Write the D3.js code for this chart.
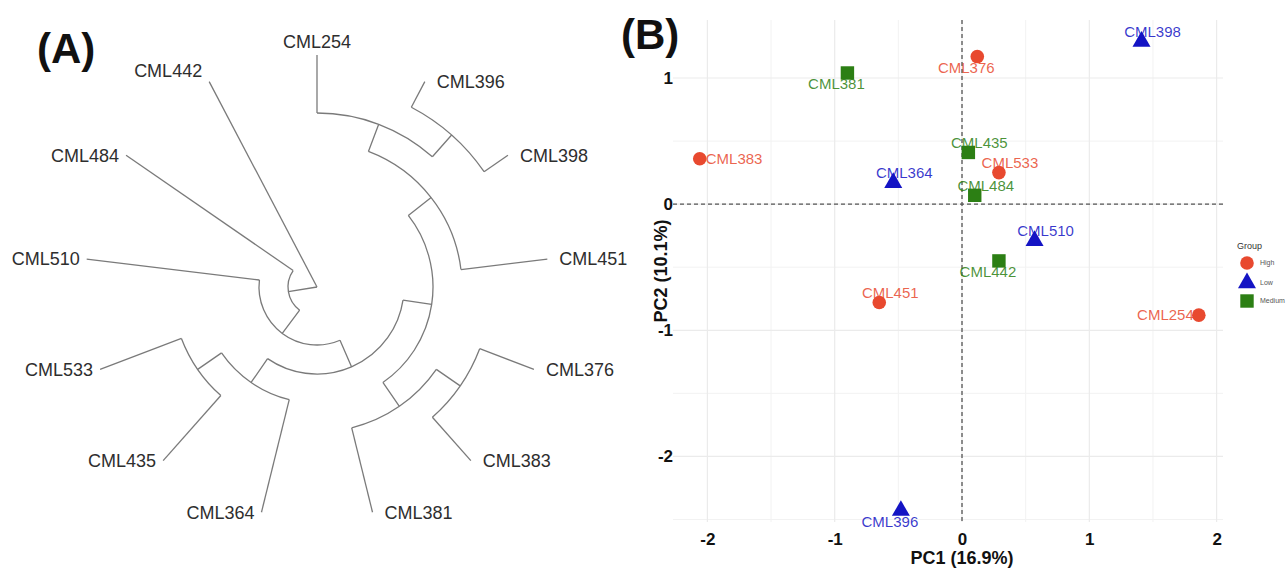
<!DOCTYPE html>
<html>
<head>
<meta charset="utf-8">
<script src="https://cdn.jsdelivr.net/npm/d3@7"></script>
<style>
  body { margin: 0; background: #fff; }
  svg { display: block; font-family: "Liberation Sans", Arial, sans-serif; }
</style>
</head>
<body>
<svg id="chart" width="1287" height="569"></svg>
<script>
// (A) dendrogram, as id / parent lists (children kept in leaf order)
const treeIds = ['root', 'n1', 'n2', 'n3', 'n4', 'n5', 'n6', 'CML254', 'n7', 'CML396', 'CML398', 'CML451',
  'n8', 'n9', 'CML376', 'CML383', 'CML381', 'n10', 'CML364', 'n11', 'CML435', 'CML533', 'CML510', 'CML484', 'CML442']
const treeParents = ['', 'root', 'n1', 'n2', 'n3', 'n4', 'n5', 'n6', 'n6', 'n7', 'n7', 'n5',
  'n4', 'n8', 'n9', 'n9', 'n8', 'n3', 'n10', 'n10', 'n11', 'n11', 'n2', 'n1', 'root']

// (B) PCA scores
const pcaNames = ['CML398', 'CML376', 'CML381', 'CML383', 'CML364', 'CML435', 'CML533', 'CML484', 'CML510', 'CML442', 'CML451', 'CML254', 'CML396']
const pc1 = [1.41, 0.12, -0.90, -2.06, -0.54, 0.05, 0.29, 0.10, 0.57, 0.29, -0.65, 1.86, -0.48]
const pc2 = [1.29, 1.17, 1.04, 0.36, 0.17, 0.41, 0.25, 0.07, -0.29, -0.45, -0.78, -0.88, -2.43]
const pcaGroups = ['Low', 'High', 'Medium', 'High', 'Low', 'Medium', 'High', 'Medium', 'Low', 'Medium', 'High', 'High', 'Low']
const labelSide = ['ne', 'sw', 'sw', 'e', 'ne', 'ne', 'ne', 'ne', 'ne', 'sw', 'ne', 'w', 'sw']
const groupNames = ['High', 'Low', 'Medium']
const groupColors = ['#e8492f', '#1414c4', '#2c7f14']
const groupShapes = [d3.symbolCircle, d3.symbolTriangle, d3.symbolSquare]
const groupSizes = [145, 140, 180]
const xTicks = [-2, -1, 0, 1, 2]
const yTicks = [-2, -1, 0, 1]

const svg = d3.select('#chart')

// ---------- (A) circular dendrogram ----------
const cx = 317, cy = 287
const tree = d3.stratify()
  .id((d, i) => treeIds[i])
  .parentId((d, i) => treeParents[i] || null)(treeIds)

d3.cluster().size([360, 1]).separation(() => 1)(tree)

const nLeaves = tree.leaves().length
const rScale = d3.scaleLinear().domain([0, tree.height]).range([0, 232])
const angleOf = d => (d.x - 90 - 180 / nLeaves) * Math.PI / 180
const radiusOf = d => d.children ? rScale(d.depth) : rScale(tree.height)
const pt = (a, r) => [cx + r * Math.cos(a), cy + r * Math.sin(a)]

const gA = svg.append('g')

gA.selectAll('path.branch')
  .data(tree.descendants())
  .enter()
  .append('path')
  .attr('class', 'branch')
  .attr('fill', 'none')
  .attr('stroke', '#7a7a7a')
  .attr('stroke-width', 1.3)
  .attr('d', d => {
    const p = d3.path()
    const a = angleOf(d)
    if (d.parent) {
      const [x0, y0] = pt(a, radiusOf(d.parent))
      const [x1, y1] = pt(a, radiusOf(d))
      p.moveTo(x0, y0)
      p.lineTo(x1, y1)
    }
    if (d.children && d.depth > 0) {
      const angles = d.children.map(angleOf)
      const a0 = d3.min(angles), a1 = d3.max(angles)
      const r = radiusOf(d)
      const [sx, sy] = pt(a0, r)
      p.moveTo(sx, sy)
      p.arc(cx, cy, r, a0, a1)
    }
    return p.toString()
  })

gA.selectAll('text.leaf')
  .data(tree.leaves())
  .enter()
  .append('text')
  .attr('class', 'leaf')
  .attr('font-size', 18)
  .attr('fill', '#2e2e2e')
  .attr('dy', '0.35em')
  .each(function (d) {
    const a = angleOf(d)
    const [x, y] = pt(a, rScale(tree.height))
    const c = Math.cos(a), s = Math.sin(a)
    const t = d3.select(this)
    if (Math.abs(c) < 0.1) {
      t.attr('text-anchor', 'middle').attr('x', x).attr('y', y + (s < 0 ? -13 : 13))
    } else if (c > 0) {
      t.attr('text-anchor', 'start').attr('x', x + 12).attr('y', y)
    } else {
      t.attr('text-anchor', 'end').attr('x', x - 7).attr('y', y + (s < -0.8 ? -11 : 0))
    }
  })
  .text(d => d.id)

svg.append('text')
  .attr('x', 37).attr('y', 63)
  .attr('font-size', 42).attr('font-weight', 'bold').attr('fill', '#111')
  .text('(A)')

// ---------- (B) PCA scatter ----------
const x = d3.scaleLinear().domain([-2.27, 2.05]).range([673, 1223])
const y = d3.scaleLinear().domain([-2.52, 1.46]).range([522, 20])
const gB = svg.append('g')

// grid: minor then major
const xMinor = d3.range(-2.5, 2.51, 0.5).filter(v => v % 1 !== 0 && v >= x.domain()[0] && v <= x.domain()[1])
const yMinor = d3.range(-2.5, 2.51, 0.5).filter(v => v % 1 !== 0 && v >= y.domain()[0] && v <= y.domain()[1])
gB.selectAll('line.vminor').data(xMinor).enter().append('line')
  .attr('x1', d => x(d)).attr('x2', d => x(d)).attr('y1', y.range()[1]).attr('y2', y.range()[0])
  .attr('stroke', '#f2f2f2').attr('stroke-width', 1)
gB.selectAll('line.hminor').data(yMinor).enter().append('line')
  .attr('y1', d => y(d)).attr('y2', d => y(d)).attr('x1', x.range()[0]).attr('x2', x.range()[1])
  .attr('stroke', '#f2f2f2').attr('stroke-width', 1)
gB.selectAll('line.vmajor').data(xTicks).enter().append('line')
  .attr('x1', d => x(d)).attr('x2', d => x(d)).attr('y1', y.range()[1]).attr('y2', y.range()[0])
  .attr('stroke', '#ebebeb').attr('stroke-width', 1.2)
gB.selectAll('line.hmajor').data(yTicks).enter().append('line')
  .attr('y1', d => y(d)).attr('y2', d => y(d)).attr('x1', x.range()[0]).attr('x2', x.range()[1])
  .attr('stroke', '#ebebeb').attr('stroke-width', 1.2)

// zero reference lines
gB.append('line')
  .attr('x1', x(0)).attr('x2', x(0)).attr('y1', y.range()[1]).attr('y2', y.range()[0])
  .attr('stroke', '#555').attr('stroke-width', 1.3).attr('stroke-dasharray', '4,3')
gB.append('line')
  .attr('y1', y(0)).attr('y2', y(0)).attr('x1', x.range()[0]).attr('x2', x.range()[1])
  .attr('stroke', '#555').attr('stroke-width', 1.3).attr('stroke-dasharray', '4,3')

// axes (plain hyphen minus as in the original)
const fmt = d => String(d)
const xAxis = gB.append('g')
  .attr('transform', `translate(0,${y.range()[0]})`)
  .call(d3.axisBottom(x).tickValues(xTicks).tickSize(0).tickPadding(11).tickFormat(fmt))
const yAxis = gB.append('g')
  .attr('transform', `translate(${x.range()[0] + 5},0)`)
  .call(d3.axisLeft(y).tickValues(yTicks).tickSize(0).tickPadding(5).tickFormat(fmt))
;[xAxis, yAxis].forEach(a => {
  a.select('.domain').remove()
  a.selectAll('text')
    .attr('font-size', 17).attr('font-weight', 'bold').attr('fill', '#111')
    .attr('font-family', '"Liberation Sans", Arial, sans-serif')
})

gB.append('text')
  .attr('x', x(0)).attr('y', 564).attr('text-anchor', 'middle')
  .attr('font-size', 18).attr('font-weight', 'bold').attr('fill', '#111')
  .text('PC1 (16.9%)')
gB.append('text')
  .attr('transform', `translate(667,${(y.range()[0] + y.range()[1]) / 2}) rotate(-90)`)
  .attr('text-anchor', 'middle')
  .attr('font-size', 18).attr('font-weight', 'bold').attr('fill', '#111')
  .text('PC2 (10.1%)')

// points
const gi = name => groupNames.indexOf(name)
gB.selectAll('path.pt')
  .data(pcaNames)
  .enter()
  .append('path')
  .attr('class', 'pt')
  .attr('transform', (d, i) => `translate(${x(pc1[i])},${y(pc2[i])})`)
  .attr('d', (d, i) => d3.symbol().type(groupShapes[gi(pcaGroups[i])]).size(groupSizes[gi(pcaGroups[i])])())
  .attr('fill', (d, i) => groupColors[gi(pcaGroups[i])])

// point labels
const sideOffset = { ne: [11, -10, 'middle'], sw: [-11, 11, 'middle'], e: [6, 0, 'start'], w: [-5, 0, 'end'] }
gB.selectAll('text.lab')
  .data(pcaNames)
  .enter()
  .append('text')
  .attr('class', 'lab')
  .attr('x', (d, i) => x(pc1[i]) + sideOffset[labelSide[i]][0])
  .attr('y', (d, i) => y(pc2[i]) + sideOffset[labelSide[i]][1])
  .attr('dy', '0.35em')
  .attr('text-anchor', (d, i) => sideOffset[labelSide[i]][2])
  .attr('font-size', 15)
  .attr('fill', (d, i) => groupColors[gi(pcaGroups[i])])
  .attr('fill-opacity', 0.85)
  .text(d => d)

// legend
const leg = svg.append('g').attr('transform', 'translate(1237,0)')
leg.append('text').attr('x', 0).attr('y', 249).attr('font-size', 9).attr('fill', '#333').text('Group')
groupNames.forEach((g, i) => {
  const yy = [263, 283, 301][i]
  leg.append('path')
    .attr('transform', `translate(10,${yy})`)
    .attr('d', d3.symbol().type(groupShapes[i]).size(groupSizes[i])())
    .attr('fill', groupColors[i])
  leg.append('text')
    .attr('x', 23).attr('y', yy).attr('dy', '0.35em')
    .attr('font-size', 7).attr('fill', '#555')
    .text(g)
})

svg.append('text')
  .attr('x', 621).attr('y', 49)
  .attr('font-size', 42).attr('font-weight', 'bold').attr('fill', '#111')
  .text('(B)')
</script>
</body>
</html>
